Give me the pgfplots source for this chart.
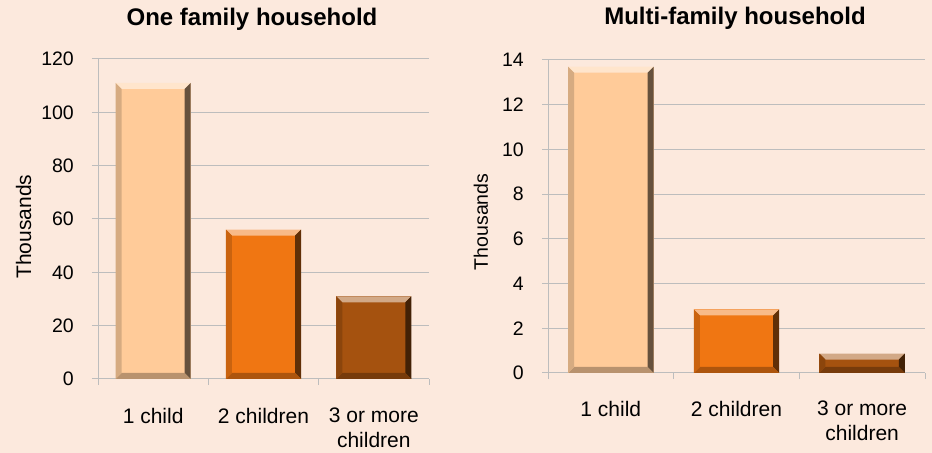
\documentclass[border=0pt]{standalone}
\usepackage{pgfplots}
\pgfplotsset{compat=1.18}
\usepackage{fontspec}
\setmainfont{Liberation Sans}
\definecolor{bg}{HTML}{FCE9DD}
\definecolor{gridc}{HTML}{BDBDBD}
\definecolor{cA}{HTML}{FFCB99}
\definecolor{cB}{HTML}{F07612}
\definecolor{cC}{HTML}{A5520F}
\newcommand\bev{6bp}
\newif\ifinbevel
\tikzset{
  bevel/.style={fill=#1, draw=none, path picture={%
    \ifinbevel\else
    \global\inbeveltrue
    \fill[#1!50!white]
      (path picture bounding box.north west) -- (path picture bounding box.north east)
      -- ([xshift=-\bev,yshift=-\bev]path picture bounding box.north east)
      -- ([xshift=\bev,yshift=-\bev]path picture bounding box.north west) -- cycle;
    \fill[#1!40!black]
      (path picture bounding box.north east) -- (path picture bounding box.south east)
      -- ([xshift=-\bev,yshift=\bev]path picture bounding box.south east)
      -- ([xshift=-\bev,yshift=-\bev]path picture bounding box.north east) -- cycle;
    \fill[#1!72!black]
      (path picture bounding box.south east) -- (path picture bounding box.south west)
      -- ([xshift=\bev,yshift=\bev]path picture bounding box.south west)
      -- ([xshift=-\bev,yshift=\bev]path picture bounding box.south east) -- cycle;
    \fill[#1!84!black]
      (path picture bounding box.south west) -- (path picture bounding box.north west)
      -- ([xshift=\bev,yshift=-\bev]path picture bounding box.north west)
      -- ([xshift=\bev,yshift=\bev]path picture bounding box.south west) -- cycle;
    \global\inbevelfalse
    \fi
  }},
}
\pgfplotsset{
  myax/.style={
    scale only axis,
    axis lines*=left,
    axis line style={gridc, line width=1bp},
    xmin=-0.5, xmax=2.5, ymin=0,
    xtick={0,1,2},
    xticklabels={1 child, 2 children, 3 or more\\children},
    major x tick style={draw=none},
    minor xtick={-0.5,0.5,1.5,2.5},
    tick align=outside,
    major tick length=6bp, minor tick length=6bp,
    tick style={gridc, line width=1bp},
    ymajorgrids,
    grid style={gridc, line width=1bp},
    /pgf/number format/assume math mode=true,
    yticklabel style={anchor=east, inner sep=0pt, xshift=-18bp,
      font=\fontsize{19.5bp}{22bp}\selectfont},
    xticklabel style={anchor=north, inner sep=0pt, align=center,
      font=\fontsize{21bp}{25bp}\selectfont},
    title style={font=\bfseries\fontsize{24bp}{28bp}\selectfont, anchor=base},
    ylabel=Thousands,
  }
}
\begin{document}
\begin{tikzpicture}
\fill[bg] (0,0) rectangle (932bp,453bp);
\path[use as bounding box] (0,0) rectangle (932bp,453bp);

\begin{axis}[myax,
  at={(98bp,74bp)}, anchor=south west,
  width=331bp, height=320bp,
  ymax=120, ytick={0,20,...,120},
  xticklabel style={yshift=-23bp},
  title={One family household},
  title style={at={([xshift=-11.5bp,yshift=28bp]axis description cs:0.5,1)}},
  ylabel style={at={([xshift=-74.5bp]axis description cs:0,0.476)}, anchor=center,
    font=\fontsize{21bp}{24bp}\selectfont},
]
\addplot[ybar, bar width=0.68, bar shift=0pt, bevel=cA] coordinates {(0,111)};
\addplot[ybar, bar width=0.68, bar shift=0pt, bevel=cB] coordinates {(1,56)};
\addplot[ybar, bar width=0.68, bar shift=0pt, bevel=cC] coordinates {(2,31)};
\end{axis}

\begin{axis}[myax,
  at={(548bp,80bp)}, anchor=south west,
  width=377bp, height=313bp,
  ymax=14, ytick={0,2,...,14},
  xticklabel style={yshift=-22bp},
  title={Multi-family household},
  title style={at={([xshift=-1.5bp,yshift=29.3bp]axis description cs:0.5,1)}},
  ylabel style={at={([xshift=-67bp]axis description cs:0,0.483)}, anchor=center,
    font=\fontsize{19.5bp}{22bp}\selectfont},
]
\addplot[ybar, bar width=0.68, bar shift=0pt, bevel=cA] coordinates {(0,13.7)};
\addplot[ybar, bar width=0.68, bar shift=0pt, bevel=cB] coordinates {(1,2.85)};
\addplot[ybar, bar width=0.68, bar shift=0pt, bevel=cC] coordinates {(2,0.87)};
\end{axis}
\end{tikzpicture}
\end{document}
